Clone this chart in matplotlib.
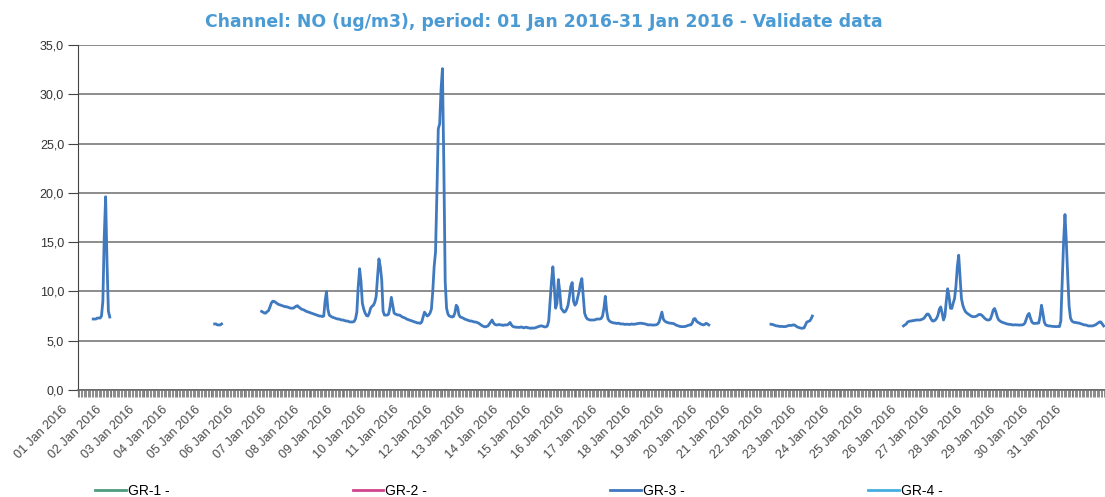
import numpy as np
import pandas as pd
import matplotlib
matplotlib.use("Agg")
import matplotlib.pyplot as plt
import matplotlib.dates as mdates
import matplotlib.transforms as mtransforms
from matplotlib.ticker import FuncFormatter

NA = np.nan

# hourly NO values (ug/m3), one list per day, NA = no valid data
jan01 = [NA]*11 + [7.2, 7.2, 7.2, 7.3, 7.3, 7.3, 7.5, 9.0, 15.5, 19.6, 13.0, 8.0, 7.4]
jan02 = [NA]*24
jan03 = [NA]*24
jan04 = [NA]*24
jan05 = [NA]*3 + [6.7, 6.7, 6.6, 6.6, 6.6, 6.7] + [NA]*15
jan06 = [NA]*13 + [7.97, 7.9, 7.8, 7.8, 7.95, 8.05, 8.4, 8.8, 9.0, 9.0, 8.9]
jan07 = [8.8, 8.7, 8.65, 8.6, 8.55, 8.5, 8.45, 8.45, 8.4, 8.35, 8.3, 8.3,
         8.3, 8.4, 8.5, 8.55, 8.4, 8.3, 8.2, 8.15, 8.1, 8.0, 7.95, 7.9]
jan08 = [7.85, 7.8, 7.75, 7.7, 7.65, 7.6, 7.55, 7.5, 7.5, 7.45, 7.5, 9.0,
         10.0, 8.2, 7.6, 7.5, 7.4, 7.35, 7.3, 7.25, 7.2, 7.2, 7.15, 7.1]
jan09 = [7.1, 7.05, 7.0, 7.0, 6.95, 6.9, 6.9, 6.9, 6.95, 7.2, 7.9, 10.5,
         12.3, 11.0, 8.8, 8.2, 7.8, 7.55, 7.5, 7.8, 8.3, 8.5, 8.6, 8.9]
jan10 = [9.5, 11.5, 13.3, 12.5, 11.2, 8.0, 7.6, 7.6, 7.6, 7.7, 8.4, 9.4,
         8.6, 7.8, 7.7, 7.65, 7.6, 7.6, 7.5, 7.4, 7.35, 7.3, 7.2, 7.15]
jan11 = [7.1, 7.05, 7.0, 6.95, 6.9, 6.85, 6.8, 6.8, 6.76, 6.9, 7.4, 7.9,
         7.7, 7.5, 7.6, 7.8, 8.2, 10.0, 12.5, 14.0, 20.0, 26.5, 27.0, 30.5]
jan12 = [32.6, 23.0, 11.0, 8.3, 7.7, 7.5, 7.45, 7.4, 7.45, 7.8, 8.6, 8.4,
         7.6, 7.4, 7.35, 7.3, 7.2, 7.15, 7.1, 7.05, 7.0, 7.0, 6.95, 6.9]
jan13 = [6.9, 6.85, 6.8, 6.7, 6.6, 6.5, 6.45, 6.4, 6.45, 6.5, 6.7, 6.9,
         7.1, 6.8, 6.65, 6.6, 6.6, 6.65, 6.6, 6.6, 6.55, 6.6, 6.6, 6.6]
jan14 = [6.7, 6.85, 6.6, 6.45, 6.4, 6.37, 6.37, 6.35, 6.35, 6.4, 6.35, 6.3,
         6.35, 6.37, 6.3, 6.3, 6.25, 6.3, 6.27, 6.3, 6.35, 6.4, 6.45, 6.5]
jan15 = [6.5, 6.45, 6.4, 6.4, 6.5, 7.0, 9.0, 11.0, 12.5, 10.5, 8.3, 8.8,
         11.2, 10.0, 8.3, 8.1, 7.9, 7.95, 8.2, 8.6, 9.5, 10.5, 10.9, 9.0]
jan16 = [8.6, 8.8, 9.4, 10.0, 10.8, 11.3, 9.5, 7.8, 7.4, 7.2, 7.15, 7.1,
         7.1, 7.1, 7.1, 7.15, 7.2, 7.2, 7.2, 7.25, 7.5, 8.3, 9.5, 8.0]
jan17 = [7.2, 7.0, 6.9, 6.85, 6.8, 6.8, 6.75, 6.77, 6.77, 6.7, 6.7, 6.7,
         6.65, 6.67, 6.67, 6.65, 6.65, 6.7, 6.67, 6.67, 6.7, 6.72, 6.75, 6.77]
jan18 = [6.77, 6.75, 6.72, 6.7, 6.65, 6.6, 6.62, 6.6, 6.6, 6.58, 6.6, 6.62,
         6.7, 6.9, 7.4, 7.9, 7.2, 7.0, 6.9, 6.85, 6.8, 6.78, 6.77, 6.75]
jan19 = [6.7, 6.6, 6.55, 6.5, 6.45, 6.43, 6.43, 6.43, 6.45, 6.5, 6.55, 6.6,
         6.6, 6.8, 7.2, 7.25, 7.0, 6.87, 6.8, 6.7, 6.65, 6.6, 6.65, 6.77]
jan20 = [6.7, 6.6] + [NA]*22
jan21 = [NA]*22 + [6.67, 6.65]
jan22 = [6.6, 6.55, 6.5, 6.5, 6.45, 6.45, 6.45, 6.43, 6.43, 6.45, 6.5, 6.55,
         6.55, 6.55, 6.6, 6.6, 6.5, 6.4, 6.35, 6.3, 6.27, 6.27, 6.3, 6.6]
jan23 = [6.9, 6.95, 7.0, 7.2, 7.5] + [NA]*19
jan24 = [NA]*24
jan25 = [NA]*22 + [6.5, 6.6]
jan26 = [6.7, 6.9, 6.95, 7.0, 7.0, 7.05, 7.05, 7.1, 7.1, 7.1, 7.1, 7.15,
         7.2, 7.3, 7.5, 7.7, 7.7, 7.5, 7.2, 7.0, 7.0, 7.1, 7.27, 7.6]
jan27 = [8.2, 8.43, 7.8, 7.1, 7.5, 9.0, 10.27, 9.5, 8.3, 8.27, 8.8, 9.27,
         10.5, 12.5, 13.67, 11.5, 9.27, 8.6, 8.2, 7.93, 7.8, 7.7, 7.6, 7.5]
jan28 = [7.45, 7.43, 7.45, 7.5, 7.6, 7.67, 7.65, 7.55, 7.4, 7.25, 7.15, 7.1,
         7.1, 7.2, 7.6, 8.1, 8.27, 7.9, 7.4, 7.1, 7.0, 6.9, 6.85, 6.8]
jan29 = [6.75, 6.7, 6.67, 6.65, 6.65, 6.6, 6.6, 6.62, 6.6, 6.6, 6.58, 6.6,
         6.6, 6.65, 6.8, 7.2, 7.6, 7.77, 7.3, 6.9, 6.77, 6.75, 6.77, 6.77]
jan30 = [6.8, 7.5, 8.6, 7.8, 6.9, 6.6, 6.55, 6.5, 6.5, 6.47, 6.45, 6.45,
         6.43, 6.43, 6.45, 6.43, 7.0, 10.9, 15.0, 17.8, 15.0, 11.5, 8.5, 7.3]
jan31 = [7.0, 6.9, 6.85, 6.85, 6.8, 6.8, 6.75, 6.7, 6.65, 6.6, 6.6, 6.55,
         6.5, 6.5, 6.5, 6.5, 6.55, 6.6, 6.7, 6.8, 6.9, 6.9, 6.7, 6.5]

days = [jan01, jan02, jan03, jan04, jan05, jan06, jan07, jan08, jan09, jan10,
        jan11, jan12, jan13, jan14, jan15, jan16, jan17, jan18, jan19, jan20,
        jan21, jan22, jan23, jan24, jan25, jan26, jan27, jan28, jan29, jan30,
        jan31]
gr3 = np.array(sum(days, []), dtype=float)
hours = pd.date_range("2016-01-01", periods=len(gr3), freq="h")

series = ["GR-1 -", "GR-2 -", "GR-3 -", "GR-4 -"]
colors = ["#4e9c7f", "#d2448c", "#3f79bf", "#45aee0"]

fig = plt.figure(figsize=(11.05, 4.97), dpi=100)
ax = fig.add_axes([0.0706, 0.2153, 0.9294, 0.6942])

handles = []
for name, col in zip(series, colors):
    y = gr3 if name == "GR-3 -" else np.full(len(gr3), np.nan)
    ln, = ax.plot(hours, y, color=col, lw=2.0, label=name)
    handles.append(ln)

ax.set_ylim(0, 35)
ax.set_yticks(np.arange(0, 36, 5))
ax.yaxis.set_major_formatter(FuncFormatter(lambda v, p: f"{v:.1f}".replace(".", ",")))
ax.set_xlim(hours[0], hours[0] + pd.Timedelta(days=31))
ax.set_xticks(pd.date_range("2016-01-01", periods=31, freq="D"))
ax.xaxis.set_major_formatter(mdates.DateFormatter("%d %b %Y"))
ax.xaxis.set_minor_locator(mdates.HourLocator())

ax.grid(axis="y", color="#6e6e6e", lw=1.1)
ax.set_axisbelow(True)
for s in ["top", "right"]:
    ax.spines[s].set_visible(False)
ax.spines["left"].set_color("#444444")
ax.spines["bottom"].set_color("#666666")
ax.spines["bottom"].set_linewidth(1.2)

ax.tick_params(axis="y", length=7, color="#444444", labelsize=9,
               labelcolor="#333333", pad=3)
ax.tick_params(axis="x", which="both", length=5, color="#777777",
               labelsize=9, labelcolor="#4a4a4a", pad=2)

# day labels sit a little down-left of their tick, as in the printout
shift = mtransforms.ScaledTranslation(-16 / 100, -4 / 100, fig.dpi_scale_trans)
for lab in ax.get_xticklabels():
    lab.set_rotation(45)
    lab.set_ha("right")
    lab.set_va("top")
    lab.set_rotation_mode("anchor")
    lab.set_transform(lab.get_transform() + shift)
for lab in ax.get_xticklabels() + ax.get_yticklabels():
    lab.set_fontfamily("Liberation Sans")

fig.text(0.492, 0.956, "Channel: NO (ug/m3), period: 01 Jan 2016-31 Jan 2016 - Validate data",
         ha="center", va="center", color="#4a9ad4", fontsize=12.4,
         fontweight="bold", family="DejaVu Sans")

fig.legend(handles=handles, loc="center left", bbox_to_anchor=(0.086, 0.013),
           ncol=4, frameon=False, borderpad=0, borderaxespad=0,
           handlelength=2.2, handletextpad=0.15, columnspacing=13.2,
           prop={"family": "Liberation Sans", "size": 10})

plt.savefig("out.png", dpi=100)
